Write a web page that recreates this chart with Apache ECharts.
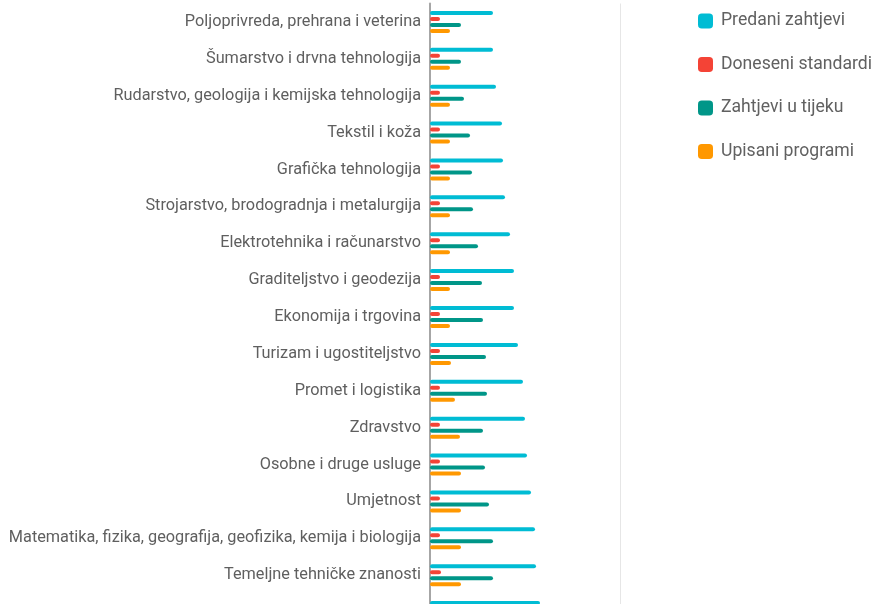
<!DOCTYPE html>
<html>
<head>
<meta charset="utf-8">
<script src="https://cdn.jsdelivr.net/npm/echarts@6/dist/echarts.min.js"></script>
<style>
  html, body { margin: 0; padding: 0; background: #fff; overflow: hidden; }
  #chart { width: 874px; height: 700px; }
</style>
</head>
<body>
<div id="chart"></div>
<script>
// sektori (zadnji je odrezan na dnu slike)
var sectors = [
  'Poljoprivreda, prehrana i veterina',
  'Šumarstvo i drvna tehnologija',
  'Rudarstvo, geologija i kemijska tehnologija',
  'Tekstil i koža',
  'Grafička tehnologija',
  'Strojarstvo, brodogradnja i metalurgija',
  'Elektrotehnika i računarstvo',
  'Graditeljstvo i geodezija',
  'Ekonomija i trgovina',
  'Turizam i ugostiteljstvo',
  'Promet i logistika',
  'Zdravstvo',
  'Osobne i druge usluge',
  'Umjetnost',
  'Matematika, fizika, geografija, geofizika, kemija i biologija',
  'Temeljne tehničke znanosti',
  'Tehnologija prometa, biotehnologija i hrana'
];
var seriesNames = ['Predani zahtjevi', 'Doneseni standardi', 'Zahtjevi u tijeku', 'Upisani programi'];
var colors = ['#00bcd4', '#f44336', '#009688', '#ff9800'];

var predani  = [63, 63, 66, 72, 73, 75, 80, 84, 84, 88, 93, 95, 97, 101, 105, 106, 110];
var doneseni = [10, 10, 10, 10, 10, 10, 10, 10, 10, 10, 10, 10, 10, 10, 10, 11, 11];
var uTijeku  = [31, 31, 34, 40, 42, 43, 48, 52, 53, 56, 57, 53, 55, 59, 63, 63, 64];
var upisani  = [20, 20, 20, 20, 20, 20, 20, 20, 20, 21, 25, 30, 31, 31, 31, 31, 31];
var xMax = 190;

var chart = echarts.init(document.getElementById('chart'));

function bar(i, data) {
  return {
    name: seriesNames[i],
    type: 'bar',
    data: data,
    barWidth: 4,
    barGap: '50%',
    itemStyle: { color: colors[i], borderRadius: 2 },
    emphasis: { disabled: true }
  };
}

chart.setOption({
  animation: false,
  textStyle: { fontFamily: 'Roboto' },
  color: colors,
  legend: {
    orient: 'vertical',
    left: 693,
    top: 7,
    itemWidth: 15,
    itemHeight: 15,
    itemGap: 25.5,
    icon: 'roundRect',
    textStyle: { color: '#616161', fontSize: 17.6, fontFamily: 'Roboto', padding: [0, 0, 0, 3] },
    data: seriesNames
  },
  grid: { left: 430, top: 3.5, width: 190, height: 627, containLabel: false },
  xAxis: {
    type: 'value',
    min: 0,
    max: xMax,
    interval: xMax,
    axisLabel: { show: false },
    axisLine: { show: false },
    axisTick: { show: false },
    splitLine: { show: true, lineStyle: { color: '#e6e6e6', width: 1 } }
  },
  yAxis: {
    type: 'category',
    inverse: true,
    data: sectors,
    axisTick: { show: false },
    axisLine: { show: true, lineStyle: { color: '#a6a6a6', width: 2 } },
    axisLabel: { color: '#5f5f5f', fontSize: 16.3, margin: 9, fontFamily: 'Roboto' }
  },
  series: [bar(0, predani), bar(1, doneseni), bar(2, uTijeku), bar(3, upisani)]
});
</script>
</body>
</html>
